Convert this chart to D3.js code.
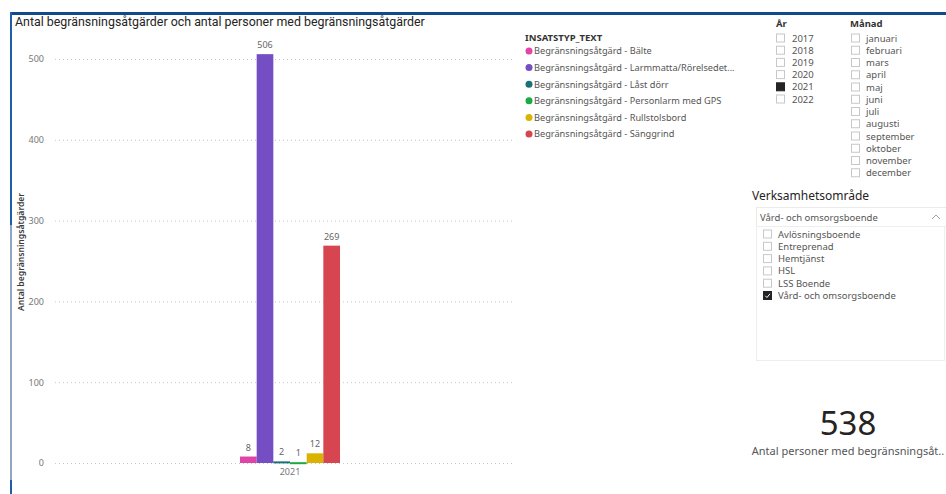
<!DOCTYPE html>
<html>
<head>
<meta charset="utf-8">
<script src="https://cdn.jsdelivr.net/npm/d3@7"></script>
<style>
html,body{margin:0;padding:0;background:#fff;}
svg{display:block;}
text{font-family:"Segoe UI","Noto Sans","Open Sans",sans-serif;}
</style>
</head>
<body>
<svg id="chart" width="946" height="494"></svg>
<script>
// ---- data ----
const categories = ["2021"];
const seriesNames = [
  "Begränsningsåtgärd - Bälte",
  "Begränsningsåtgärd - Larmmatta/Rörelsedet...",
  "Begränsningsåtgärd - Låst dörr",
  "Begränsningsåtgärd - Personlarm med GPS",
  "Begränsningsåtgärd - Rullstolsbord",
  "Begränsningsåtgärd - Sänggrind"
];
const seriesValues = [8, 506, 2, 1, 12, 269];
const seriesColors = ["#E044A7", "#744EC2", "#197278", "#1AAB40", "#D9B300", "#D64550"];
const yTicks = [0, 100, 200, 300, 400, 500];
const years = ["2017", "2018", "2019", "2020", "2021", "2022"];
const selectedYear = "2021";
const months = ["januari","februari","mars","april","maj","juni","juli","augusti","september","oktober","november","december"];
const areas = ["Avlösningsboende","Entreprenad","Hemtjänst","HSL","LSS Boende","Vård- och omsorgsboende"];
const selectedArea = "Vård- och omsorgsboende";
const cardValue = 538;
const cardLabel = "Antal personer med begränsningsåt..";

const svg = d3.select("#chart");

// frame
svg.append("rect").attr("x", 10).attr("y", 12).attr("width", 936).attr("height", 3).attr("fill", "#114a8b");
svg.append("rect").attr("x", 10).attr("y", 12).attr("width", 2).attr("height", 213).attr("fill", "#1f5fa8");
svg.append("rect").attr("x", 10).attr("y", 225).attr("width", 2).attr("height", 255).attr("fill", "#8ea6bf");
svg.append("rect").attr("x", 10).attr("y", 480).attr("width", 2).attr("height", 14).attr("fill", "#1f5fa8");

// title
svg.append("text").attr("x", 15).attr("y", 26)
  .style("font-family", "Roboto, sans-serif").style("font-size", "12.4px").attr("fill", "#252423")
  .text("Antal begränsningsåtgärder och antal personer med begränsningsåtgärder");

// scales
const y = d3.scaleLinear().domain([0, 500]).range([463, 59]);
const x0 = d3.scaleBand().domain(categories).range([52, 528]).paddingInner(0).paddingOuter(1.88);
const x1 = d3.scaleBand().domain(seriesNames).range([0, x0.bandwidth()]).padding(0);

// y axis with gridlines
const yAxis = svg.append("g").attr("transform", "translate(55,0)")
  .call(d3.axisLeft(y).tickValues(yTicks).tickSize(-460).tickPadding(11).tickFormat(d3.format("d")));
yAxis.select(".domain").remove();
yAxis.selectAll(".tick line").attr("stroke", "#c8c8c8").attr("stroke-dasharray", "1,3");
yAxis.selectAll(".tick text").attr("fill", "#777").style("font-size", "9px");

// y title
svg.append("text").attr("transform", "translate(24,252) rotate(-90)")
  .attr("text-anchor", "middle").style("font-size", "8.6px").style("font-weight", "600").attr("fill", "#3a3a3a")
  .text("Antal begränsningsåtgärder");

// x axis
const xAxis = svg.append("g").attr("transform", "translate(0,463)")
  .call(d3.axisBottom(x0).tickSize(0).tickPadding(6));
xAxis.select(".domain").remove();
xAxis.selectAll(".tick text").attr("fill", "#777").style("font-size", "9px");

// bars
const data = seriesNames.map((s, i) => ({ cat: categories[0], name: s, value: seriesValues[i], color: seriesColors[i] }));
const g = svg.append("g");
g.selectAll("rect.bar").data(data).join("rect").attr("class", "bar")
  .attr("x", d => x0(d.cat) + x1(d.name))
  .attr("y", d => y(d.value))
  .attr("width", x1.bandwidth())
  .attr("height", d => Math.max(2, y(0) - y(d.value)))
  .attr("fill", d => d.color);
g.selectAll("text.lbl").data(data).join("text").attr("class", "lbl")
  .attr("x", d => x0(d.cat) + x1(d.name) + x1.bandwidth() / 2)
  .attr("y", d => y(d.value) - 6)
  .attr("text-anchor", "middle").style("font-size", "9px").attr("fill", "#666")
  .text(d => d.value);

// legend
svg.append("text").attr("x", 525).attr("y", 41).style("font-size", "9.5px").style("font-weight", "700").attr("fill", "#333")
  .text("INSATSTYP_TEXT");
const leg = svg.append("g").selectAll("g").data(data).join("g")
  .attr("transform", (d, i) => `translate(529,${51 + i * 16.6})`);
leg.append("circle").attr("r", 3.5).attr("fill", d => d.color);
leg.append("text").attr("x", 5).attr("y", 3.3).style("font-size", "9.2px").attr("fill", "#555").text(d => d.name);

// År slicer
svg.append("text").attr("x", 776).attr("y", 27).style("font-size", "9.5px").style("font-weight", "700").attr("fill", "#333").text("År");
const yr = svg.append("g").selectAll("g").data(years).join("g")
  .attr("transform", (d, i) => `translate(776,${33.5 + i * 12.2})`);
yr.append("rect").attr("x", 0.5).attr("y", 0.5).attr("width", 8).attr("height", 8)
  .attr("fill", d => d === selectedYear ? "#252423" : "#fff")
  .attr("stroke", d => d === selectedYear ? "#252423" : "#c8c8c8");
yr.append("text").attr("x", 16).attr("y", 8).style("font-size", "9.5px").attr("fill", "#555").text(d => d);

// Månad slicer
svg.append("text").attr("x", 850).attr("y", 27).style("font-size", "9.5px").style("font-weight", "700").attr("fill", "#333").text("Månad");
const mo = svg.append("g").selectAll("g").data(months).join("g")
  .attr("transform", (d, i) => `translate(851,${33.5 + i * 12.25})`);
mo.append("rect").attr("x", 0.5).attr("y", 0.5).attr("width", 8).attr("height", 8).attr("fill", "#fff").attr("stroke", "#c8c8c8");
mo.append("text").attr("x", 15).attr("y", 8).style("font-size", "9.5px").attr("fill", "#555").text(d => d);

// Verksamhetsområde slicer
svg.append("text").attr("x", 752).attr("y", 200).style("font-size", "12px").attr("fill", "#252423").text("Verksamhetsområde");
svg.append("rect").attr("x", 756.5).attr("y", 207.5).attr("width", 195).attr("height", 19).attr("fill", "#fff").attr("stroke", "#eaeaea");
svg.append("text").attr("x", 760).attr("y", 221).style("font-size", "9.5px").attr("fill", "#555").text(selectedArea);
svg.append("path").attr("d", "M932,219 L936,215 L940,219").attr("fill", "none").attr("stroke", "#888").attr("stroke-width", 0.8);
svg.append("rect").attr("x", 756.5).attr("y", 226.5).attr("width", 188).attr("height", 134).attr("fill", "#fff").attr("stroke", "#eeeeee");
const ar = svg.append("g").selectAll("g").data(areas).join("g")
  .attr("transform", (d, i) => `translate(763,${229.5 + i * 12.3})`);
ar.append("rect").attr("x", 0.5).attr("y", 0.5).attr("width", 8).attr("height", 8)
  .attr("fill", d => d === selectedArea ? "#252423" : "#fff")
  .attr("stroke", d => d === selectedArea ? "#252423" : "#c8c8c8");
ar.filter(d => d === selectedArea).append("path").attr("d", "M2.3,4.8 L4,6.5 L7,2.8").attr("fill", "none").attr("stroke", "#fff").attr("stroke-width", 1);
ar.append("text").attr("x", 15).attr("y", 8).style("font-size", "9.5px").attr("fill", "#555").text(d => d);

// card
svg.append("text").attr("x", 848).attr("y", 435).attr("text-anchor", "middle").style("font-size", "33px").attr("fill", "#252423").text(cardValue);
svg.append("text").attr("x", 848).attr("y", 455).attr("text-anchor", "middle").style("font-size", "11px").attr("fill", "#555").text(cardLabel);
</script>
</body>
</html>
